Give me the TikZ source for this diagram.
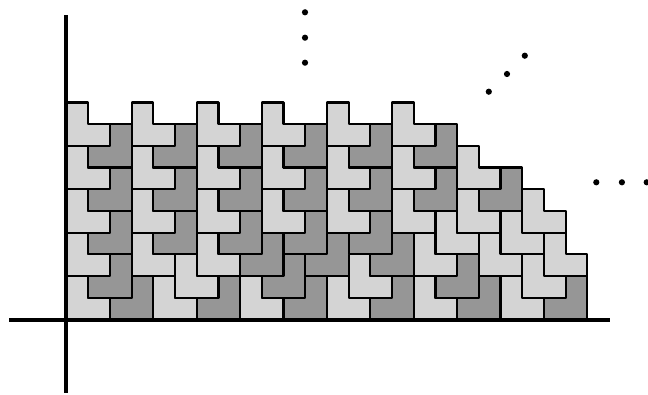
\documentclass[tikz,border=0pt]{standalone}
\definecolor{tlight}{RGB}{212,212,212}
\definecolor{tdark}{RGB}{150,150,150}
\tikzset{
  lightL/.style={fill=tlight, draw=black, line width=2.2pt, line join=round},
  darkJ/.style={fill=tdark, draw=black, line width=2.2pt, line join=round},
  axisline/.style={draw=black, line width=3.4pt},
  dotmark/.style={fill=black},
}
\newcommand\LightTile[2]{\path[lightL] (#1,#2) -- ++(2,0) -- ++(0,1) -- ++(-1,0) -- ++(0,1) -- ++(-1,0) -- cycle;}
\newcommand\DarkTile[2]{\path[darkJ] (#1,#2) -- ++(2,0) -- ++(0,2) -- ++(-1,0) -- ++(0,-1) -- ++(-1,0) -- cycle;}
\begin{document}
\begin{tikzpicture}[x=1pt,y=1pt]
\useasboundingbox (0,0) rectangle (648,395);
\begin{scope}[shift={(66.5,75.5)}, x=21.7pt, y=21.7pt]
  \foreach \a/\b in {0/8,0/6,0/4,0/2,0/0,3/8,3/6,3/4,3/2,4/0,5/1,6/8,6/6,6/4,6/2,8/0,9/8,9/6,9/4,12/8,12/6,12/4,13/1,12/0,15/8,15/6,15/4,16/2,17/3,16/0,18/6,18/4,21/4,20/3,19/2,22/2,21/1,20/0}
    {\LightTile{\a}{\b}}
  \foreach \a/\b in {1/7,1/5,1/3,1/1,2/0,4/7,4/5,4/3,7/7,7/5,7/3,6/0,8/2,10/7,10/5,10/3,9/1,10/0,11/2,13/7,13/5,13/3,14/0,14/2,16/7,16/5,17/1,19/5,18/0,22/0}
    {\DarkTile{\a}{\b}}
\end{scope}
% axes
\coordinate (ytop) at (66,380);
\coordinate (ybot) at (66,2);
\coordinate (xleft) at (9,75);
\coordinate (xright) at (610,75);
\draw[axisline] (ybot) -- (ytop);
\draw[axisline] (xleft) -- (xright);
% continuation dots
\foreach \p in {(305,382.7),(305,357.3),(305,332.3),(488.8,303.3),(507,321),(524.8,339.3),(596.3,212.7),(621.9,212.7),(646.7,212.7)}
  {\fill[dotmark] \p circle (3.1);}
\end{tikzpicture}
\end{document}
